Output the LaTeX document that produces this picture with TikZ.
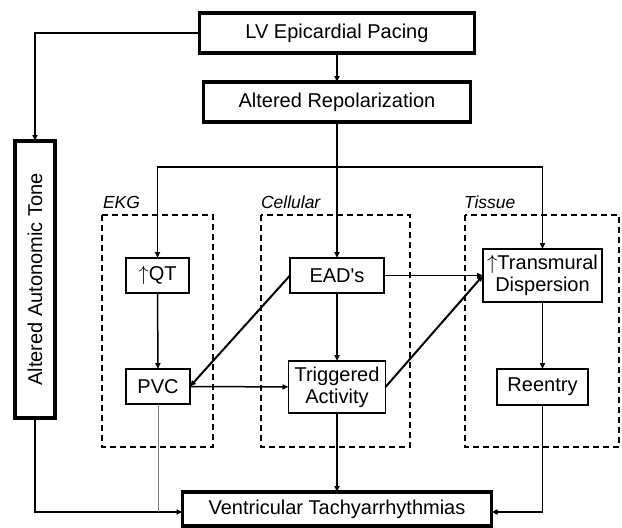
\documentclass[tikz,border=0pt]{standalone}
\usepackage{fontspec}
\setmainfont{Liberation Sans}[Ligatures=TeXOff]
\usetikzlibrary{arrows.meta}
\begin{document}
\begin{tikzpicture}[x=1pt,y=-1pt,
  every node/.style={inner sep=0pt, outer sep=0pt, font=\fontsize{20}{22}\selectfont, align=center},
  thickbox/.style={draw, line width=3.5pt, minimum width=#1},
  thinbox/.style={draw, line width=1.4pt},
  grp/.style={draw, line width=1.5pt, dash pattern=on 6pt off 4pt},
  grplabel/.style={font=\fontsize{17.5}{20}\selectfont\itshape, anchor=base west},
  conn/.style={line width=1.5pt, -{Triangle[length=6pt,width=5pt]}},
  diag/.style={line width=2pt, -{Triangle[length=6pt,width=5pt]}},
  grayline/.style={line width=1pt, draw=gray}
]
\useasboundingbox (0,0) rectangle (622,528);

% group frames
\draw[grp] (102,215) rectangle (213,447);
\draw[grp] (261,215) rectangle (410,447);
\draw[grp] (465,215) rectangle (619,447);
\node[grplabel] (lekg) at (103,208) {EKG};
\node[grplabel] (lcell) at (261,208) {Cellular};
\node[grplabel] (ltis) at (464,208) {Tissue};

% main nodes
\node[thickbox=275pt, minimum height=40pt] (LV) at (337,33) {LV Epicardial Pacing};
\node[thickbox=267pt, minimum height=40pt] (AR) at (337,102) {Altered Repolarization};
\node[thickbox=40pt, minimum height=277pt] (Auto) at (35,279.5) {\rotatebox{90}{Altered Autonomic Tone}};
\node[thickbox=309pt, minimum height=34pt] (VT) at (337,509) {Ventricular Tachyarrhythmias};

\node[thinbox, minimum width=63pt, minimum height=35pt] (QT) at (157.5,275.5) {$\uparrow$QT};
\node[thinbox, minimum width=94pt, minimum height=35pt] (EAD) at (337,275.5) {EAD's};
\node[thinbox, minimum width=119pt, minimum height=53pt] (Trans) at (542.5,275.5) {$\uparrow$Transmural\\Dispersion};
\node[thinbox, minimum width=64pt, minimum height=35pt] (PVC) at (158,386.5) {PVC};
\node[thinbox, minimum width=97pt, minimum height=52pt] (Trig) at (337,387) {Triggered\\Activity};
\node[thinbox, minimum width=91pt, minimum height=36pt] (Reen) at (542.5,387) {Reentry};

% connectors
\coordinate (sp) at (337,167);
\coordinate (vtw) at ([yshift=-3pt]VT.west);
\coordinate (vte) at ([yshift=-3pt]VT.east);

\draw[conn] (LV) -- (AR);
\draw[conn] (LV.west) -| (Auto.north);
\draw[conn] (AR) -- (EAD);
\draw[conn] (sp) -| (QT);
\draw[conn] (sp) -| (Trans);
\draw[conn] (QT) -- (PVC);
\draw[conn] (EAD) -- (Trig);
\draw[conn] (EAD) -- (Trans);
\draw[diag] (EAD.west) -- (PVC.east);
\draw[diag] (Trig.east) -- (Trans.west);
\draw[conn] (PVC) -- (Trig);
\draw[conn] (Trans) -- (Reen);
\draw[conn] (Trig) -- (VT);
\draw[conn] (Auto.south) |- (vtw);
\draw[grayline] (PVC.south) -- (PVC.south |- vtw);
\draw[conn] (Reen.south) |- (vte);
\end{tikzpicture}
\end{document}
